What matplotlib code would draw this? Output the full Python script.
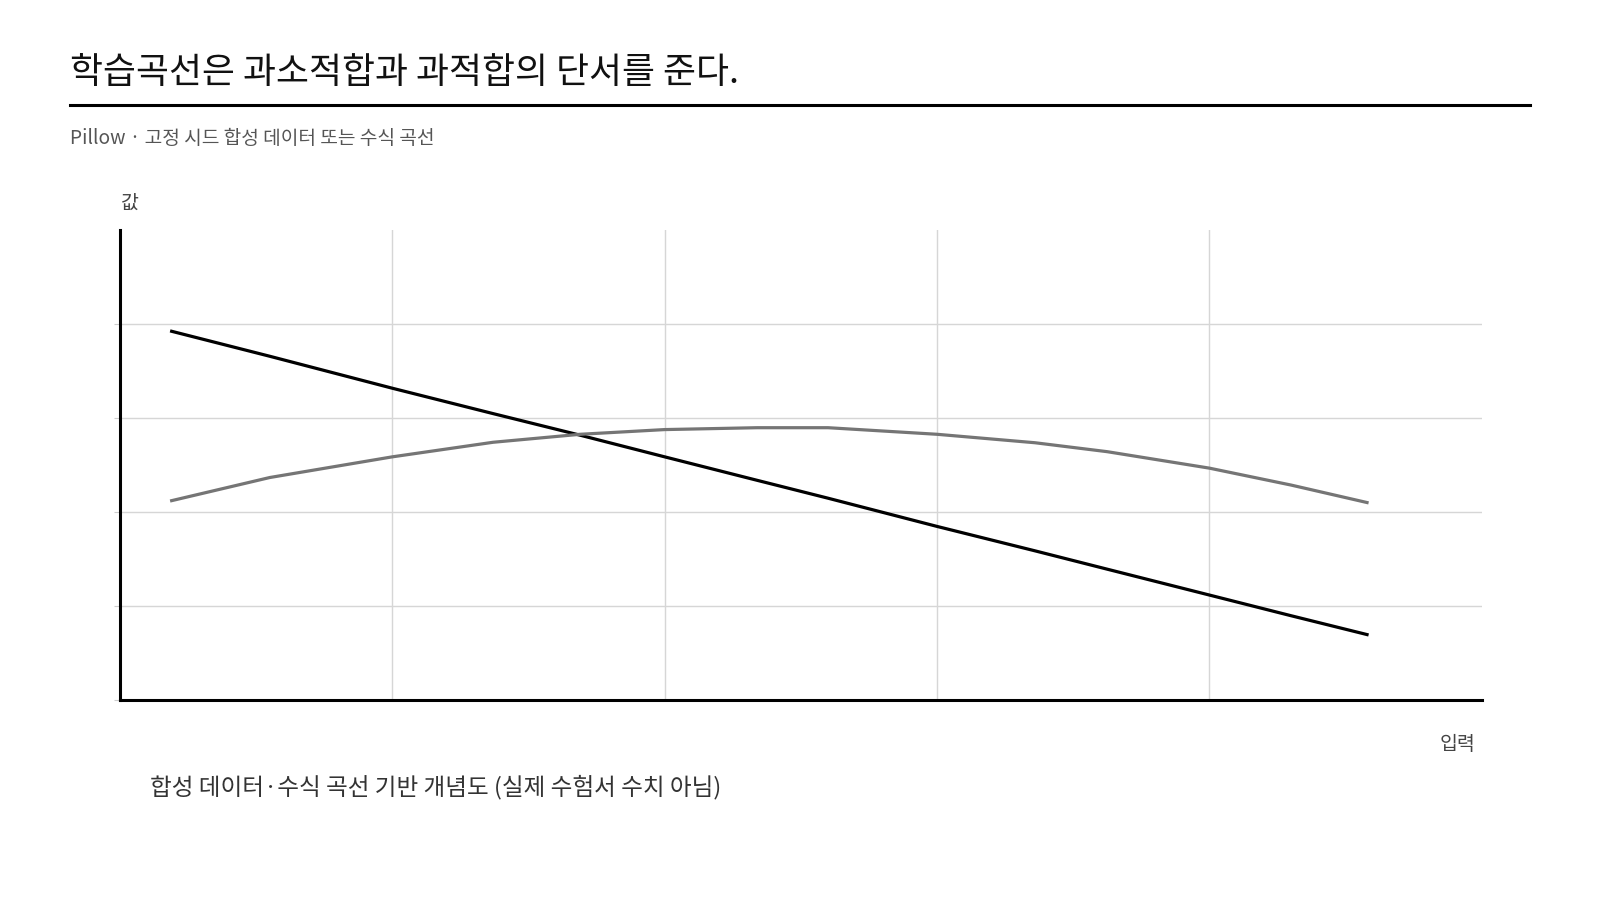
import matplotlib
matplotlib.use("Agg")
import matplotlib.pyplot as plt
from matplotlib.lines import Line2D

plt.rcParams['font.family'] = ['Noto Sans CJK KR', 'DejaVu Sans']

# 읽어낸 값 (합성 개념도)
x_vals = [0.184, 0.55, 1.0, 1.37, 1.69, 2.0, 2.34, 2.6, 3.0, 3.36, 3.625, 4.0, 4.3, 4.585]
train_vals = [3.93, 3.66, 3.32, 3.05, 2.82, 2.59, 2.34, 2.15, 1.85, 1.59, 1.395, 1.12, 0.90, 0.695]
valid_vals = [2.12, 2.37, 2.59, 2.745, 2.83, 2.88, 2.90, 2.90, 2.83, 2.74, 2.645, 2.47, 2.29, 2.10]
x_ticks = [0, 1, 2, 3, 4]
y_ticks = [0, 1, 2, 3, 4]

title = "학습곡선은 과소적합과 과적합의 단서를 준다."
subtitle = "Pillow · 고정 시드 합성 데이터 또는 수식 곡선"
caption = "합성 데이터·수식 곡선 기반 개념도 (실제 수험서 수치 아님)"

fig = plt.figure(figsize=(16, 9), dpi=100)
fig.patch.set_facecolor("white")

ax = fig.add_axes([0.075, 0.2219, 0.851, 0.5222])
ax.plot(x_vals, train_vals, color="black", lw=2.3, solid_capstyle="butt")
ax.plot(x_vals, valid_vals, color="#757575", lw=2.3, solid_capstyle="butt")

ax.set_xlim(0, 5)
ax.set_ylim(0, 5)
ax.set_xticks(x_ticks)
ax.set_yticks(y_ticks)
ax.grid(True, color="#d6d6d6", lw=1)
ax.set_axisbelow(True)
for s in ["top", "right"]:
    ax.spines[s].set_visible(False)
for s in ["left", "bottom"]:
    ax.spines[s].set_color("black")
    ax.spines[s].set_linewidth(2.2)
ax.tick_params(axis="y", length=4, color="#cccccc", labelleft=False)
ax.tick_params(axis="x", length=0, labelbottom=False)

fig.text(0.044, 0.919, title, fontsize=25.8, color="#111111",
         va="center", ha="left")
fig.add_artist(Line2D([0.044, 0.956], [0.883, 0.883], color="black", lw=2.2,
                      transform=fig.transFigure))
fig.text(0.044, 0.846, subtitle, fontsize=13.8, color="#555555",
         va="center", ha="left")
fig.text(0.081, 0.774, "값", fontsize=14, color="#444444", va="center", ha="center")
fig.text(0.922, 0.173, "입력", fontsize=14, color="#444444", va="center", ha="right")
fig.text(0.094, 0.126, caption, fontsize=17, color="#333333",
         va="center", ha="left")

fig.savefig("out.png", dpi=100, facecolor="white")
